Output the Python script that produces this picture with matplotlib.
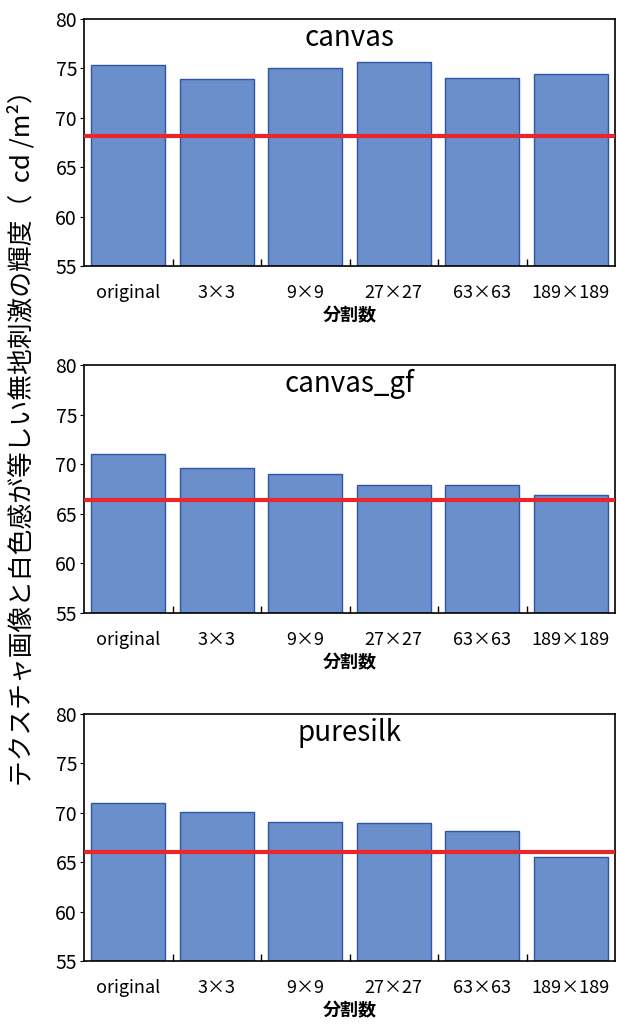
import matplotlib
matplotlib.use('Agg')
import matplotlib.pyplot as plt
import numpy as np

plt.rcParams['font.family'] = ['Noto Sans CJK JP', 'DejaVu Sans']

# データ --------------------------------------------------------------
categories = ['original', '3×3', '9×9', '27×27', '63×63', '189×189']
titles = ['canvas', 'canvas_gf', 'puresilk']
canvas = [75.3, 73.9, 75.0, 75.6, 74.0, 74.4]
canvas_gf = [71.0, 69.6, 69.0, 67.9, 67.9, 66.9]
puresilk = [71.0, 70.1, 69.1, 69.0, 68.2, 65.5]
red_lines = [68.2, 66.4, 66.0]
yticks = [55, 60, 65, 70, 75, 80]

series = [canvas, canvas_gf, puresilk]
# 各パネルの位置 (上端, 下端) ピクセル
panel_px = [(19, 266), (365, 613), (714, 961)]

W, H = 617, 1030
fig = plt.figure(figsize=(W / 100, H / 100), dpi=100)

x = np.arange(len(categories))
for vals, title, red, (top, bot) in zip(series, titles, red_lines, panel_px):
    ax = fig.add_axes([84 / W, 1 - bot / H, 531 / W, (bot - top) / H])
    ax.bar(x, vals, width=0.84, color='#6b8fca', edgecolor='#2f55a4',
           linewidth=1.0)
    ax.axhline(red, color='#e8262b', linewidth=3, zorder=5)
    ax.set_xlim(-0.5, 5.5)
    ax.set_ylim(55, 80)
    ax.set_yticks(yticks)
    ax.set_xticks(x)
    ax.set_xticklabels(categories, fontsize=13)
    ax.set_xticks(x[:-1] + 0.5, minor=True)
    ax.tick_params(axis='x', which='major', length=0, pad=13)
    ax.tick_params(axis='x', which='minor', direction='in', length=5, width=1)
    ax.tick_params(axis='y', direction='out', length=3, labelsize=14, pad=2)
    for s in ax.spines.values():
        s.set_linewidth(1.2)
    ax.text(0.5, 1 - 19 / (bot - top), title, transform=ax.transAxes,
            ha='center', va='center', fontsize=20)
    ax.set_xlabel('分割数', fontsize=13, fontweight='bold', labelpad=3)

fig.text(22 / W, 1 - 432 / H, 'テクスチャ画像と白色感が等しい無地刺激の輝度（  cd /m²）',
         rotation=90, ha='center', va='center', fontsize=18.5)

fig.savefig('out.png', dpi=100)
